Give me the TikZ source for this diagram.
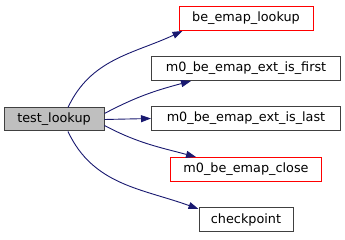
\documentclass[tikz,border=0pt]{standalone}
\usepackage{fontspec}
\setmainfont{DejaVu Sans}
\usepackage{tikz}
\usetikzlibrary{arrows.meta}
\usetikzlibrary{positioning}
\definecolor{callblue}{HTML}{191970}
\definecolor{rootgray}{HTML}{BFBFBF}
\definecolor{boxedge}{HTML}{404040}

\begin{document}
\begin{tikzpicture}[x=1pt,y=1pt,node distance=50pt,on grid,>={Triangle[length=10pt,width=7pt]},
		fn/.style={rectangle,draw=boxedge,line width=1pt,inner sep=0pt,minimum height=24pt,font=\fontsize{12.8}{15}\selectfont},
		undoc/.style={fn,draw=red},
		call/.style={draw=callblue,line width=0.9pt}]
		\useasboundingbox (0,0) rectangle (345,240);
		\node[fn,fill=rootgray,minimum width=100pt,minimum height=23pt] (test) at (54,120.5) {test\_lookup};
		\node[undoc,minimum width=134pt] (lookup) at (246,221.5) {be\_emap\_lookup};
		\node[fn,minimum width=189pt] (first) [below=of lookup] {m0\_be\_emap\_ext\_is\_first};
		\node[fn,minimum width=189pt] (last)  [below=of first]  {m0\_be\_emap\_ext\_is\_last};
		\node[undoc,minimum width=151pt] (close) [below=51pt of last] {m0\_be\_emap\_close};
		\node[fn,minimum width=94pt] (chk) [below=50.5pt of close] {checkpoint};
		
		\path[->]
		([xshift=14pt]test.north) edge[call,out=65,in=205] ([xshift=4pt]lookup.south west)
		([yshift=6pt]test.east) edge[call,out=28,in=195] ([xshift=40pt]first.south west)
		(test.east) edge[call] (last.west)
		([yshift=-6pt]test.east) edge[call,out=-28,in=165] ([xshift=26pt]close.north west)
		([xshift=14pt]test.south) edge[call,out=-65,in=160] ([yshift=-1.5pt]chk.north west);
		\end{tikzpicture}
\end{document}
